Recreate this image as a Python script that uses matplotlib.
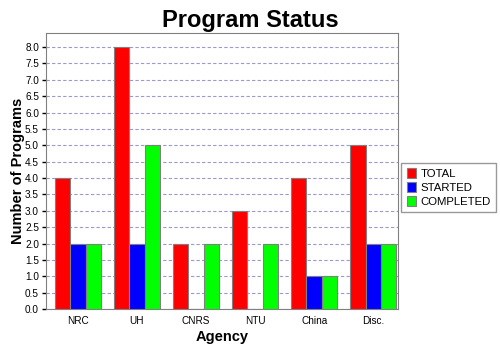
import numpy as np
import matplotlib
matplotlib.use("Agg")
import matplotlib.pyplot as plt

plt.rcParams["font.family"] = ["Liberation Sans", "DejaVu Sans"]

agencies = ["NRC", "UH", "CNRS", "NTU", "China", "Disc."]
total = [4, 8, 2, 3, 4, 5]
started = [2, 2, 0, 0, 1, 2]
completed = [2, 5, 2, 2, 1, 2]
series = [("TOTAL", total, "#ff0000"), ("STARTED", started, "#0000ff"), ("COMPLETED", completed, "#00ff00")]

fig = plt.figure(figsize=(5, 3.5), dpi=100)
ax = fig.add_axes([0.092, 0.117, 0.704, 0.789])

x = np.arange(len(agencies))
w = 0.26
for i, (name, vals, col) in enumerate(series):
    ax.bar(x + (i - 1) * w, vals, w, color=col, edgecolor="#808080", linewidth=0.8, label=name, zorder=3)

ax.set_xlim(-0.54, 5.42)
ax.set_ylim(0, 8.43)
ticks = np.arange(0, 8.01, 0.5)
ax.set_yticks(ticks)
ax.set_yticklabels([f"{v:.1f}" for v in ticks], fontsize=7.2)
ax.set_xticks(x)
ax.set_xticklabels(agencies, fontsize=7.2)
ax.tick_params(axis="x", length=0, pad=5)
ax.tick_params(axis="y", length=3, width=1, pad=2)
ax.grid(axis="y", linestyle=(0, (3, 2)), color="#9a9acc", linewidth=0.8, zorder=0)
for s in ax.spines.values():
    s.set_color("#808080")

fig.suptitle("Program Status", x=0.5, y=0.975, fontsize=17, fontweight="bold")
ax.set_xlabel("Agency", fontsize=10.5, fontweight="bold", labelpad=3)
ax.set_ylabel("Number of Programs", fontsize=10.5, fontweight="bold", labelpad=0)

leg = ax.legend(loc="center left", bbox_to_anchor=(1.0, 0.44), fontsize=8.2, frameon=True, fancybox=False,
                edgecolor="#808080", handlelength=0.8, handleheight=0.9, handletextpad=0.4,
                borderpad=0.45, labelspacing=0.3, borderaxespad=0.3)
leg.get_frame().set_linewidth(1)

fig.savefig("out.png", dpi=100)
